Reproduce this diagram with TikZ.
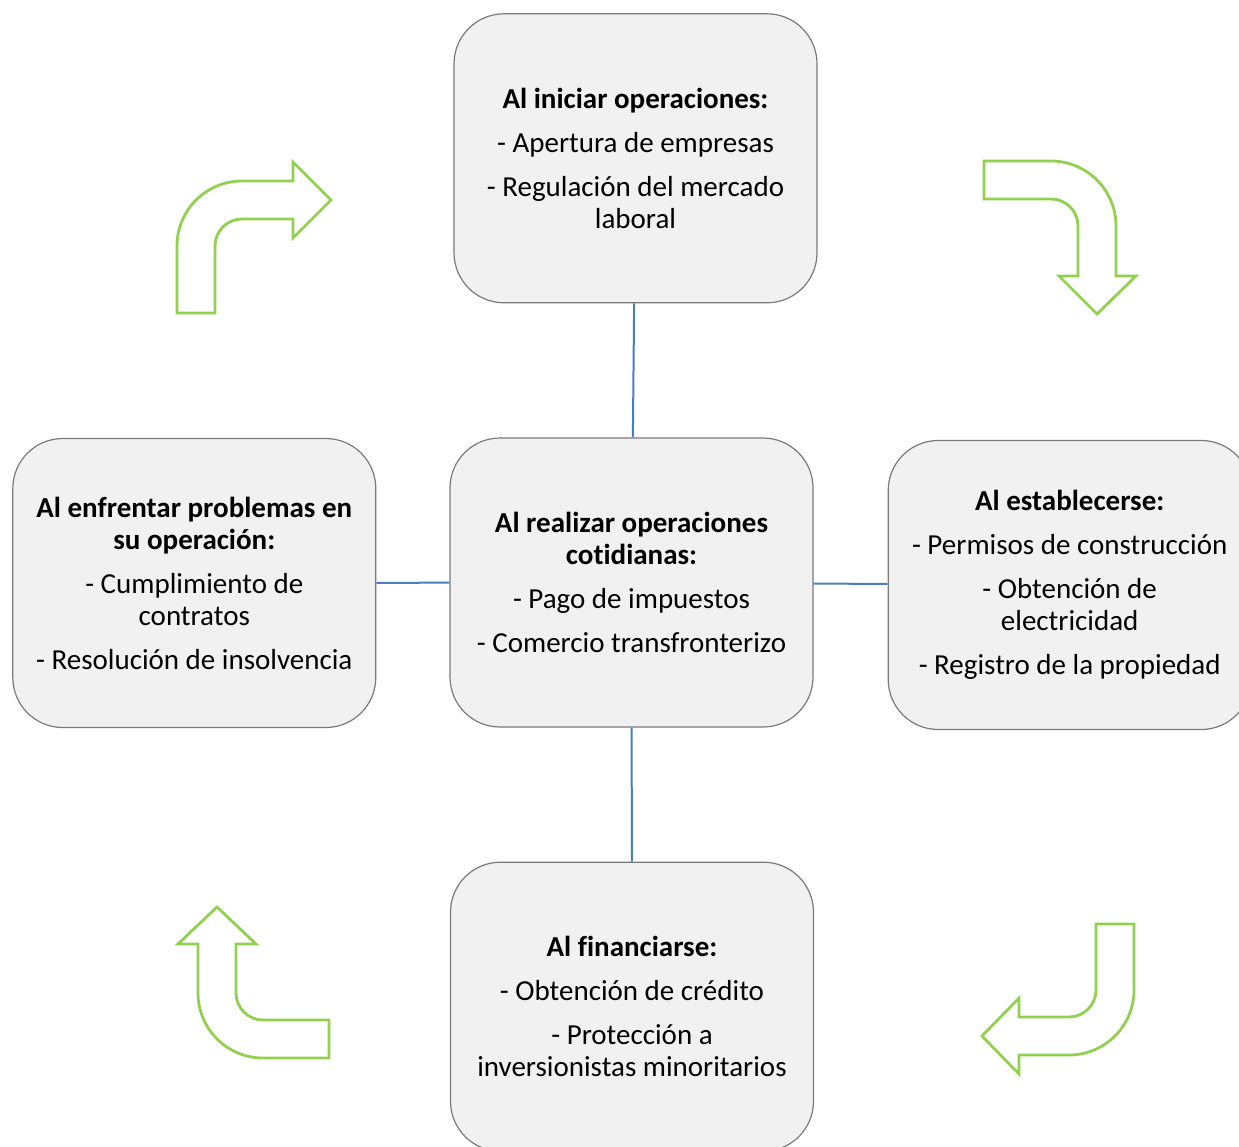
\documentclass[tikz,border=0pt]{standalone}
\usepackage{fontspec}
\setmainfont{Carlito}[Ligatures=NoCommon]
\usepackage{tikz}
\usetikzlibrary{positioning}

\definecolor{boxfill}{HTML}{F1F1F1}
\definecolor{boxline}{HTML}{7A7A7A}
\definecolor{linkblue}{HTML}{4A7EBB}
\definecolor{turngreen}{HTML}{92D050}

\begin{document}
\begin{tikzpicture}[x=1pt, y=-1pt,
    stage/.style={rectangle, rounded corners=50pt, draw=boxline, line width=1.2pt, fill=boxfill,
      minimum width=363pt, minimum height=289pt, align=center, inner sep=0pt,
      font=\fontsize{29}{32}\selectfont},
    link/.style={draw=linkblue, line width=2pt},
    turn/.style={draw=turngreen, line width=2.8pt, line join=miter}]
    \useasboundingbox (0,0) rectangle (1239,1146);
    \clip (0,0) rectangle (1239,1146);

    % Central stage and the four stages around it
    \node (daily) [stage] at (631.5,582.5) {\textbf{Al realizar operaciones}\\\textbf{cotidianas:}\\[12pt]
      - Pago de impuestos\\[12pt] - Comercio transfronterizo};
    \node (start) [stage, above=134pt of daily, xshift=4pt] {\textbf{Al iniciar operaciones:}\\[12pt]
      - Apertura de empresas\\[12pt] - Regulación del mercado\\laboral};
    \node (trouble) [stage, left=73pt of daily, yshift=-0.5pt] {\textbf{Al enfrentar problemas en}\\\textbf{su operación:}\\[12pt]
      - Cumplimiento de\\contratos\\[12pt] - Resolución de insolvencia};
    \node (settle) [stage, right=74pt of daily, yshift=-2.5pt] {\textbf{Al establecerse:}\\[12pt]
      - Permisos de construcción\\[12pt] - Obtención de\\electricidad\\[12pt] - Registro de la propiedad};
    \node (finance) [stage, below=134pt of daily, xshift=0.5pt] {\textbf{Al financiarse:}\\[12pt]
      - Obtención de crédito\\[12pt] - Protección a\\inversionistas minoritarios};

    % Links to the centre
    \draw[link] (start) -- (daily);
    \draw[link] (daily) -- (finance);
    \draw[link] (trouble) -- (daily);
    \draw[link] (daily) -- (settle);

    % Bent arrows showing the cycle
    \draw[turn] (177,313) -- (177,246) arc (180:270:65) -- (293,181) -- (293,162) -- (331,200)
      -- (293,238) -- (293,219) -- (242,219) arc (270:180:27) -- (215,313) -- cycle;
    \draw[turn] (984,161) -- (1051,161) arc (270:360:65) -- (1116,276) -- (1136,276) -- (1097,314)
      -- (1059,276) -- (1078,276) -- (1078,226) arc (0:-90:27) -- (984,199) -- cycle;
    \draw[turn] (1096,924) -- (1134,924) -- (1134,990) arc (0:90:65) -- (1019,1055) -- (1019,1074)
      -- (982,1036) -- (1019,998) -- (1019,1017) -- (1069,1017) arc (90:0:27) -- cycle;
    \draw[turn] (329,1058) -- (263,1058) arc (90:180:65) -- (198,944) -- (178,944) -- (217,907)
      -- (256,944) -- (236,944) -- (236,993) arc (180:90:27) -- (329,1020) -- cycle;
\end{tikzpicture}
\end{document}
